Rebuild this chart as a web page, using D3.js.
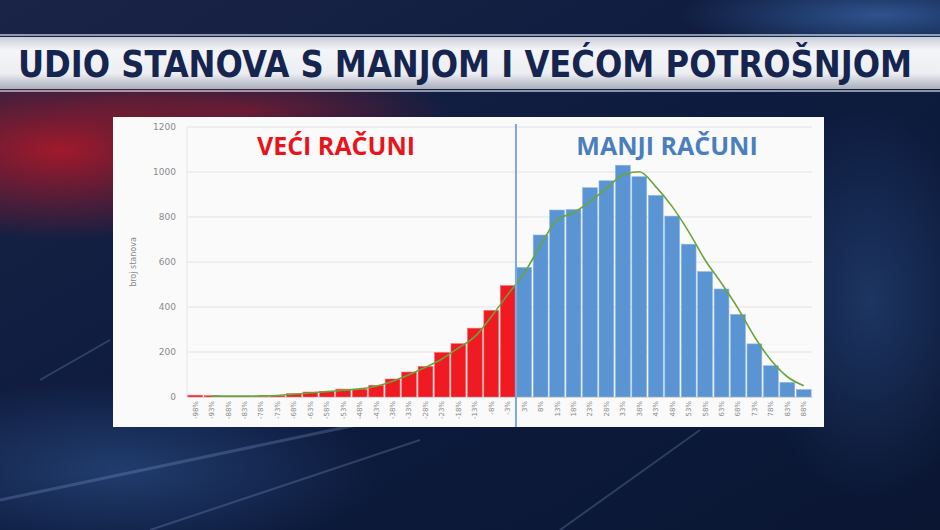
<!DOCTYPE html>
<html>
<head>
<meta charset="utf-8">
<script src="https://cdn.jsdelivr.net/npm/d3@7"></script>
<style>
  html, body { margin: 0; padding: 0; background: #0b1633; }
  svg { display: block; }
</style>
</head>
<body>
<div id="chart"></div>
<script>
// data
const redLabels = ['-98%','-93%','-88%','-83%','-78%','-73%','-68%','-63%','-58%','-53%',
                   '-48%','-43%','-38%','-33%','-28%','-23%','-18%','-13%','-8%','-3%'];
const blueLabels = ['3%','8%','13%','18%','23%','28%','33%','38%','43%','48%',
                    '53%','58%','63%','68%','73%','78%','83%','88%'];
const redValues = [8, 6, 3, 3, 3, 5, 15, 22, 25, 35, 35, 52, 80, 111, 136, 198, 237, 306, 385, 495];
const blueValues = [576, 720, 831, 833, 930, 961, 1030, 979, 896, 804, 679, 557, 480, 367, 236, 139, 65, 33];
const trendValues = [null, 4, 4, 4, 5, 7, 12, 18, 24, 30, 36, 48, 70, 99, 132, 169, 218, 268, 357, 455,
                     550, 675, 787, 819, 868, 927, 987, 1001, 935, 846, 735, 609, 505, 394, 268, 164, 90, 50];
const yTicks = [0, 200, 400, 600, 800, 1000, 1200];

const width = 940, height = 530;

const svg = d3.select('#chart').append('svg')
  .attr('width', width)
  .attr('height', height);

const defs = svg.append('defs');

// background glows
const bg = defs.append('linearGradient').attr('id', 'bg').attr('x1', 0).attr('y1', 0).attr('x2', 1).attr('y2', 1);
bg.append('stop').attr('offset', '0%').attr('stop-color', '#1a2446');
bg.append('stop').attr('offset', '50%').attr('stop-color', '#0d1b3e');
bg.append('stop').attr('offset', '100%').attr('stop-color', '#0a1632');

const redGlow = defs.append('radialGradient').attr('id', 'redGlow');
redGlow.append('stop').attr('offset', '0%').attr('stop-color', '#b01828').attr('stop-opacity', 0.9);
redGlow.append('stop').attr('offset', '100%').attr('stop-color', '#b01828').attr('stop-opacity', 0);

const blueGlow = defs.append('radialGradient').attr('id', 'blueGlow');
blueGlow.append('stop').attr('offset', '0%').attr('stop-color', '#3d6bb0').attr('stop-opacity', 0.7);
blueGlow.append('stop').attr('offset', '100%').attr('stop-color', '#3d6bb0').attr('stop-opacity', 0);

const banner = defs.append('linearGradient').attr('id', 'banner').attr('x1', 0).attr('y1', 0).attr('x2', 0).attr('y2', 1);
banner.append('stop').attr('offset', '0%').attr('stop-color', '#c9cdd6');
banner.append('stop').attr('offset', '25%').attr('stop-color', '#f4f5f8');
banner.append('stop').attr('offset', '70%').attr('stop-color', '#eceef2');
banner.append('stop').attr('offset', '100%').attr('stop-color', '#a9aebb');

svg.append('rect').attr('width', width).attr('height', height).attr('fill', 'url(#bg)');
svg.append('ellipse').attr('cx', 60).attr('cy', 150).attr('rx', 230).attr('ry', 90).attr('fill', 'url(#redGlow)');
svg.append('ellipse').attr('cx', 250).attr('cy', 110).attr('rx', 200).attr('ry', 40).attr('fill', 'url(#redGlow)').attr('opacity', 0.6);
svg.append('ellipse').attr('cx', 880).attr('cy', 15).attr('rx', 200).attr('ry', 40).attr('fill', 'url(#blueGlow)');
svg.append('ellipse').attr('cx', 120).attr('cy', 470).attr('rx', 260).attr('ry', 90).attr('fill', 'url(#blueGlow)').attr('opacity', 0.6);
svg.append('ellipse').attr('cx', 870).attr('cy', 300).attr('rx', 120).attr('ry', 200).attr('fill', 'url(#blueGlow)').attr('opacity', 0.5);

// light streaks at the bottom
[[0, 500, 380, 420, 3], [150, 530, 420, 440, 2], [560, 530, 700, 430, 2], [40, 380, 110, 340, 2]]
  .forEach(function (s) {
    svg.append('line')
      .attr('x1', s[0]).attr('y1', s[1]).attr('x2', s[2]).attr('y2', s[3])
      .attr('stroke', '#8fb0e0').attr('stroke-opacity', 0.25).attr('stroke-width', s[4]);
  });

// title banner
svg.append('rect').attr('x', 0).attr('y', 37).attr('width', width).attr('height', 52).attr('fill', 'url(#banner)');
svg.append('line').attr('x1', 0).attr('x2', width).attr('y1', 35).attr('y2', 35)
  .attr('stroke', '#dfe6f2').attr('stroke-width', 1.5).attr('stroke-opacity', 0.8);
svg.append('line').attr('x1', 0).attr('x2', width).attr('y1', 91).attr('y2', 91)
  .attr('stroke', '#dfe6f2').attr('stroke-width', 1.5).attr('stroke-opacity', 0.8);
const title = svg.append('text')
  .attr('transform', 'translate(465,77) scale(1,1.03)')
  .style('text-anchor', 'middle')
  .style('font-family', '"DejaVu Sans Condensed", "DejaVu Sans", sans-serif')
  .style('font-weight', 'bold')
  .style('font-size', '34px')
  .style('fill', '#16254f')
  .text('UDIO STANOVA S MANJOM I VEĆOM POTROŠNJOM');
// size the title so it spans the banner like the reference
const tLen = title.node().getComputedTextLength();
title.style('font-size', Math.min(40, 34 * 894 / tLen) + 'px');

// white panel
svg.append('rect').attr('x', 113).attr('y', 117).attr('width', 711).attr('height', 310).attr('fill', '#fafafa');

const labels = redLabels.concat(blueLabels);
const values = redValues.concat(blueValues);
const data = labels.map(function (l, i) {
  return { label: l, value: values[i], trend: trendValues[i], side: i < redLabels.length ? 'red' : 'blue' };
});

const x = d3.scaleBand().domain(labels).range([187, 812]).paddingInner(0.1).paddingOuter(0.05);
const y = d3.scaleLinear().domain([0, 1200]).range([397, 127]);

// gridlines
svg.append('g')
  .selectAll('line')
  .data(yTicks)
  .enter()
  .append('line')
  .attr('x1', 187).attr('x2', 812)
  .attr('y1', function (d) { return y(d); })
  .attr('y2', function (d) { return y(d); })
  .attr('stroke', '#e2e2e2').attr('stroke-width', 1);
svg.append('line').attr('x1', 187).attr('x2', 187).attr('y1', y(1200)).attr('y2', y(0))
  .attr('stroke', '#e6e6e6');

// y axis
const yAxis = svg.append('g')
  .attr('transform', 'translate(176,0)')
  .call(d3.axisLeft(y).tickValues(yTicks).tickFormat(d3.format('d')).tickSize(0).tickPadding(0));
yAxis.select('.domain').remove();
yAxis.selectAll('text')
  .style('font-family', '"DejaVu Sans", sans-serif')
  .style('font-size', '9px')
  .style('fill', '#8a8a8a');

svg.append('text')
  .attr('transform', 'translate(136,' + y(600) + ') rotate(-90)')
  .style('text-anchor', 'middle')
  .style('font-family', '"DejaVu Sans", sans-serif')
  .style('font-size', '8px')
  .style('fill', '#8a8a8a')
  .text('broj stanova');

// bars
svg.append('g')
  .selectAll('rect')
  .data(data)
  .enter()
  .append('rect')
  .attr('x', function (d) { return x(d.label); })
  .attr('y', function (d) { return y(d.value); })
  .attr('width', x.bandwidth())
  .attr('height', function (d) { return y(0) - y(d.value); })
  .attr('fill', function (d) { return d.side === 'red' ? '#f01b22' : '#5b94d2'; })
  .attr('stroke', function (d) { return d.side === 'red' ? '#ff6a6a' : '#8db6e4'; })
  .attr('stroke-width', 0.6);

// trend line
const line = d3.line()
  .defined(function (d) { return d.trend !== null; })
  .x(function (d) { return x(d.label) + x.bandwidth() / 2; })
  .y(function (d) { return y(d.trend); })
  .curve(d3.curveMonotoneX);
svg.append('path')
  .datum(data)
  .attr('d', line)
  .attr('fill', 'none')
  .attr('stroke', '#6aa53a')
  .attr('stroke-width', 1.6);

// x axis labels
const xAxis = svg.append('g')
  .attr('transform', 'translate(0,' + y(0) + ')')
  .call(d3.axisBottom(x).tickSize(0).tickPadding(0));
xAxis.select('.domain').attr('stroke', '#d8d8d8');
xAxis.selectAll('text')
  .attr('transform', 'rotate(-90)')
  .attr('x', -4).attr('y', 0).attr('dy', '0.35em')
  .style('text-anchor', 'end')
  .style('font-family', '"DejaVu Sans", sans-serif')
  .style('font-size', '7px')
  .style('fill', '#8a8a8a');

// divider between the two groups
const splitX = (x(redLabels[redLabels.length - 1]) + x.bandwidth() + x(blueLabels[0])) / 2;
svg.append('line')
  .attr('x1', splitX).attr('x2', splitX).attr('y1', 124).attr('y2', 427)
  .attr('stroke', '#80a8d8').attr('stroke-width', 2);

// group captions
svg.append('text')
  .attr('x', 336).attr('y', 155)
  .style('text-anchor', 'middle')
  .style('font-family', '"Open Sans", "DejaVu Sans", sans-serif')
  .style('font-weight', 'bold')
  .style('font-size', '25px')
  .style('fill', '#e8141c')
  .text('VEĆI RAČUNI');
svg.append('text')
  .attr('x', 667).attr('y', 155)
  .style('text-anchor', 'middle')
  .style('font-family', '"Open Sans", "DejaVu Sans", sans-serif')
  .style('font-weight', 'bold')
  .style('font-size', '25px')
  .style('fill', '#4a7fbd')
  .text('MANJI RAČUNI');
</script>
</body>
</html>
